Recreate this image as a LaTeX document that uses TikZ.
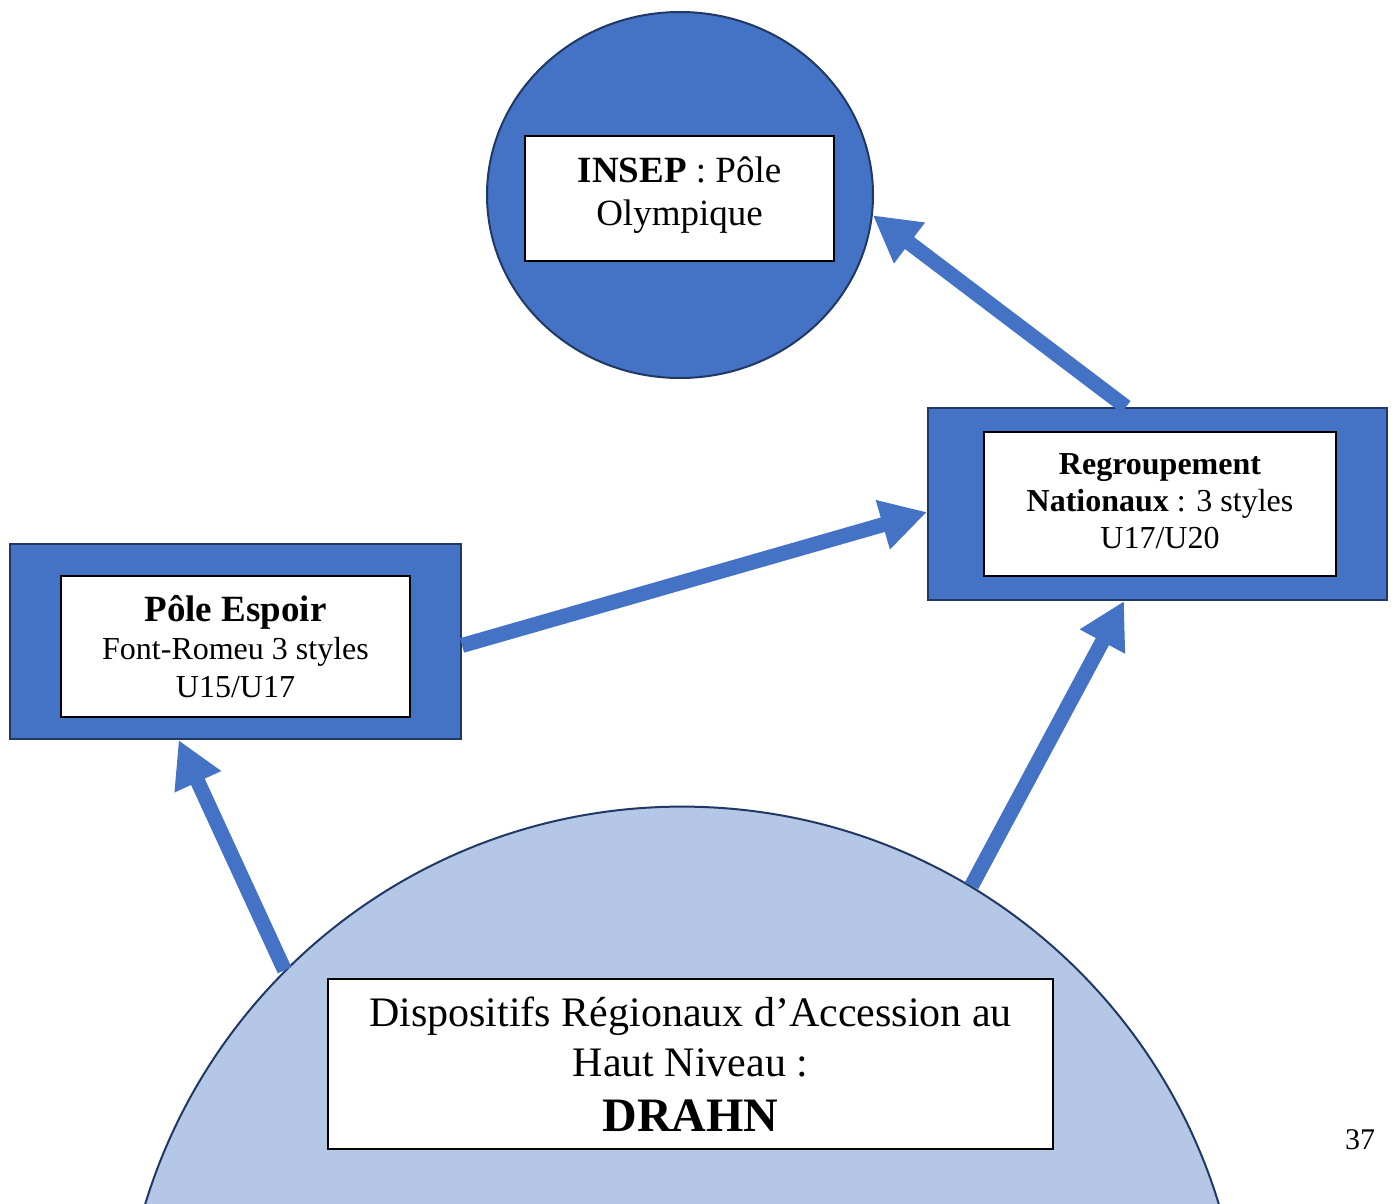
\documentclass[tikz,border=0pt]{standalone}
\usepackage{fontspec}
\setmainfont{Liberation Serif}
\usetikzlibrary{arrows.meta, shapes.geometric, positioning, calc}

\definecolor{offblue}{HTML}{4472C4}
\definecolor{paleblue}{HTML}{B4C7E7}
\definecolor{navy}{HTML}{203864}

\tikzset{
    outerbox/.style={rectangle, draw=navy, line width=2pt, fill=offblue, inner sep=0pt},
    whitebox/.style={rectangle, draw=black, line width=1.2pt, fill=white, align=center, inner sep=0pt},
    thickarrow/.style={draw=offblue, line width=15pt, -{Triangle[length=46pt, width=48pt]}}
}

\begin{document}
\begin{tikzpicture}[x=1pt, y=-1pt]
            \useasboundingbox (0,0) rectangle (1395,1203);
            \clip (0,0) rectangle (1395,1203);

            % levels: olympic pole, national groups, hope pole, regional base
            \node[ellipse, draw=navy, line width=2pt, fill=offblue, minimum width=386pt, minimum height=366pt, inner sep=0pt] (insep) at (680,195) {};
            \node[outerbox, minimum width=459pt, minimum height=192pt] (regroup) at (1157.5,504) {};
            \node[outerbox, minimum width=451pt, minimum height=195pt] (espoir) at (235.5,641.5) {};
            \node[circle, draw=navy, line width=2pt, fill=paleblue, minimum size=1122pt, inner sep=0pt] (drahn) at (682,1367.6) {};

            % upward arrows
            \draw[thickarrow] (drahn.135.4) -- (espoir.-120.5);
            \draw[thickarrow] (drahn.59.6) -- (regroup.-109.8);
            \draw[thickarrow] (espoir.-1.7) -- (regroup.-178.5);
            \draw[thickarrow] (regroup.108.7) -- (insep.-6.4);

            % text boxes
            \node[whitebox, minimum width=309pt, minimum height=125pt] (insepBox) at (679.5,198.5) {};
            \node[align=center, font=\fontsize{37}{43}\selectfont] (insepText) at (679.5,195) {\textbf{INSEP} : Pôle\\Olympique};
            \node[whitebox, minimum width=352pt, minimum height=144pt] (regroupBox) at (1160,504) {};
            \node[align=center, font=\fontsize{32}{37}\selectfont] (regroupText) at (1160,501) {\textbf{Regroupement}\\\textbf{Nationaux} : 3 styles\\U17/U20};
            \node[whitebox, minimum width=349pt, minimum height=141pt, font=\fontsize{32}{38}\selectfont] (espoirText) at (235.5,646.5) {{\fontsize{37}{40}\selectfont\textbf{Pôle Espoir}}\\Font-Romeu 3 styles\\U15/U17};
            \node[whitebox, minimum width=725pt, minimum height=170pt, font=\fontsize{42}{50}\selectfont] (drahnText) at (690.5,1064) {Dispositifs Régionaux d’Accession au\\Haut Niveau :\\[5pt]{\fontsize{48}{57}\selectfont\textbf{DRAHN}}};

            % page number
            \node[font=\fontsize{30}{36}\selectfont] (pageNum) at (1360,1140) {37};
        \end{tikzpicture}
\end{document}
